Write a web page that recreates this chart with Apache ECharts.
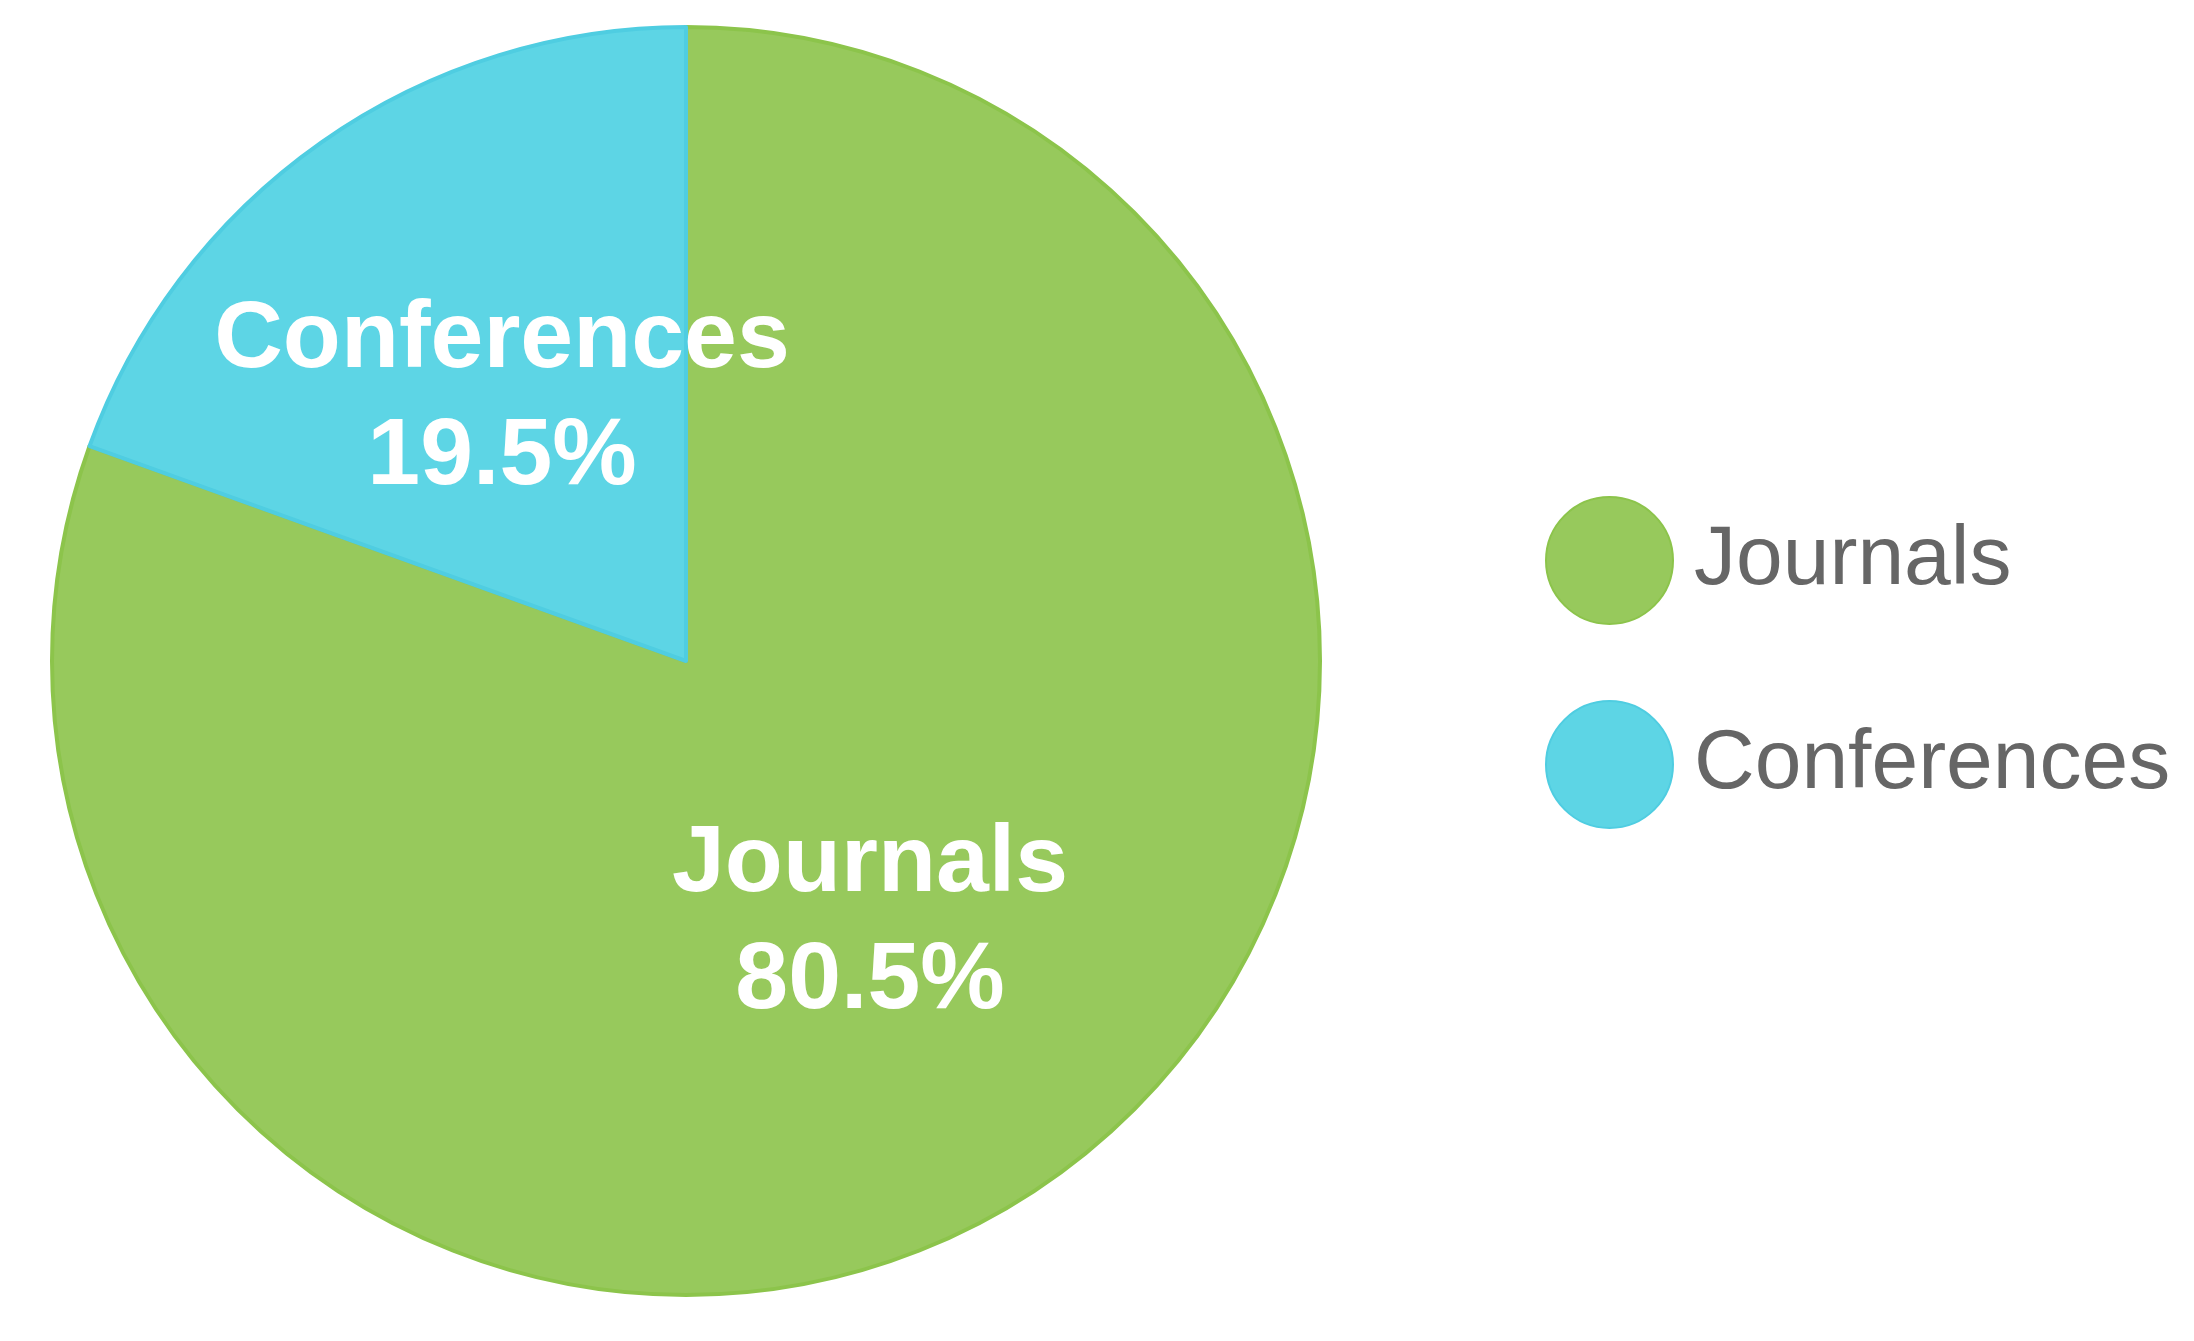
<!DOCTYPE html>
<html>
<head>
<meta charset="utf-8">
<title>Journals vs Conferences</title>
<script src="https://cdn.jsdelivr.net/npm/echarts@6/dist/echarts.min.js"></script>
<style>
	html, body { margin: 0; padding: 0; background: #fff; }
	#pieChart { width: 2194px; height: 1341px; }
</style>
</head>
<body>
<div id="pieChart"></div>
<script>
// data
var categories = ['Journals', 'Conferences'];
var shares = [80.5, 19.5];
var fillColors = ['#97c95c', '#5dd5e5'];
var edgeColors = ['#8cc44b', '#4fcde1'];

var pieData = [];
for (var i = 0; i < categories.length; i++) {
	pieData.push({
		name: categories[i],
		value: shares[i],
		itemStyle: {
			color: fillColors[i],
			borderColor: edgeColors[i],
			borderWidth: 4
		}
	});
}

var option = {
	backgroundColor: '#ffffff',
	animation: false,
	legend: {
		orient: 'vertical',
		left: 1540,
		top: 491,
		itemWidth: 127,
		itemHeight: 127,
		itemGap: 75,
		icon: 'circle',
		data: categories,
		textStyle: {
			color: '#666666',
			fontSize: 84,
			fontFamily: '"Liberation Sans", Arial, sans-serif',
			padding: [0, 0, 0, 16]
		}
	},
	series: [
		{
			name: 'Publications',
			type: 'pie',
			center: [686, 661],
			radius: 634,
			startAngle: 90,
			clockwise: true,
			avoidLabelOverlap: false,
			label: {
				show: true,
				position: 'inside',
				color: '#ffffff',
				fontSize: 95,
				fontWeight: 'bold',
				lineHeight: 117,
				fontFamily: '"Liberation Sans", Arial, sans-serif',
				formatter: function (p) {
					return p.name + '\n' + p.percent.toFixed(1) + '%';
				}
			},
			labelLine: { show: false },
			emphasis: { disabled: true },
			data: pieData
		}
	]
};

var myChart = echarts.init(document.getElementById('pieChart'));
myChart.setOption(option);
</script>
</body>
</html>
